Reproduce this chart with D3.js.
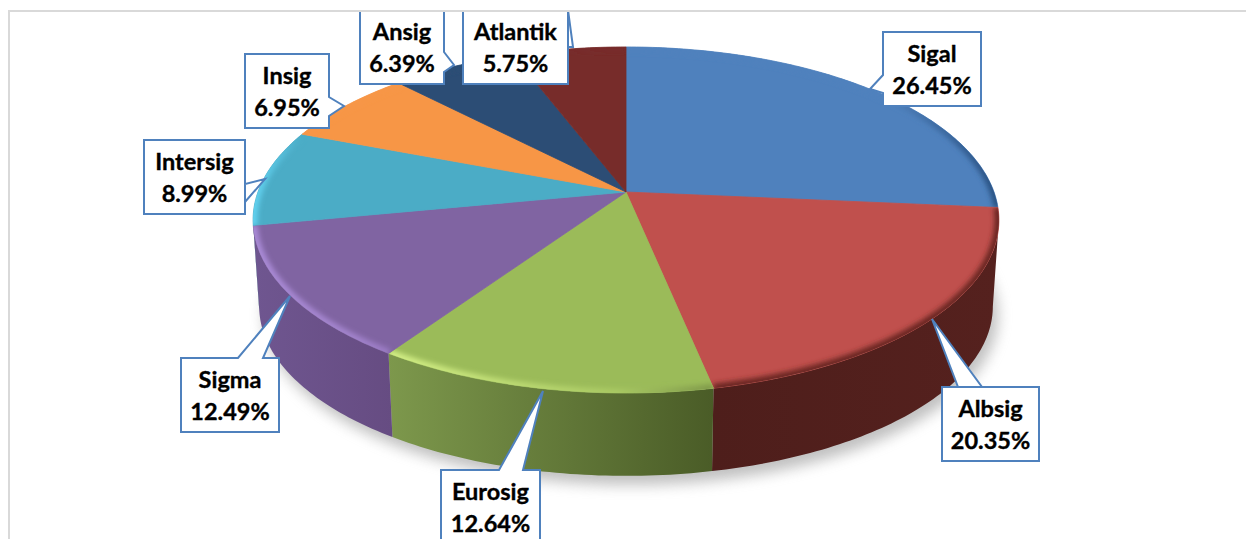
<!DOCTYPE html>
<html>
<head>
<meta charset="utf-8">
<script src="https://cdn.jsdelivr.net/npm/d3@7"></script>
<style>
html,body{margin:0;padding:0;background:#fff;overflow:hidden;}
svg{display:block;}
</style>
</head>
<body>
<svg></svg>
<script>
var width = 1246;
var height = 539;
// chart data
var categories = ["Sigal","Albsig","Eurosig","Sigma","Intersig","Insig","Ansig","Atlantik"];
var shares = [26.45,20.35,12.64,12.49,8.99,6.95,6.39,5.75];
var shareLabels = ["26.45%","20.35%","12.64%","12.49%","8.99%","6.95%","6.39%","5.75%"];
// colours of each slice
var topColors = ["#4f81bd","#c0504d","#9bbb59","#8064a2","#4bacc6","#f79646","#2c4d75","#772c2a"];
var rimColors = [["#4f81bd","#4f81bd","#2a5282"],["#6a2724","#6a2724","#6a2724"],
                 ["#d2ee85","#a9c963","#7f994a"],["#a98ad6","#a283cc","#9a7bc4"],
                 ["#62d2f0","#52b8d4","#4bacc6"],["#f79646","#f79646","#f79646"],
                 ["#2c4d75","#2c4d75","#2c4d75"],["#772c2a","#772c2a","#772c2a"]];
var wallColors = [["#2f4d72","#2f4d72"],["#4e1e1b","#55211e"],["#7d984c","#4a5c27"],["#6f5690","#664c82"],
                  ["#2e6878","#2e6878"],["#955a2a","#955a2a"],["#1b2f47","#1b2f47"],["#481b19","#481b19"]];
// callout boxes: [left, top, right, bottom], tip, the two pointer base points
var boxes = [[883,32,981,106],[942,387,1039,461],[441,470,540,544],[181,358,279,432],
             [144,140,245,214],[245,54,329,128],[360,10,444,84],[463,10,568,84]];
var tips = [[870,89],[932,319],[543,391],[290,296],[265,179],[344,106],[454,65],[573,47]];
var bases = [[[883,93],[883,75]],[[982,387],[958,387]],[[499,470],[523,470]],[[238,358],[263,358]],
             [[245,202],[245,184]],[[329,97],[329,116]],[[444,52],[444,72]],[[568,10],[568,47]]];

var svg = d3.select("svg")
    .attr("width",width)
    .attr("height",height);
var defs = svg.append("defs");

//perspective of the disc, k makes the front bigger than the back
var k = 0.1618;
var xTop = d3.scaleLinear().domain([-1,1]).range([626-368,626+368]);
var yTop = d3.scaleLinear().domain([-1,1]).range([192-168.5,192+168.5]);
var xBottom = d3.scaleLinear().domain([-1,1]).range([626-362,626+362]);
var yBottom = d3.scaleLinear().domain([-1,1]).range([279-165,279+165]);
function project(angle,xScale,yScale) {
    var u = Math.sin(angle);
    var v = -Math.cos(angle);
    var w = 1/(1-k*v);
    return [xScale(u*w),yScale(v*w)];
}
function arcPoints(a0,a1,xScale,yScale) {
    var n = Math.max(2,Math.ceil((a1-a0)*60));
    return d3.range(n+1).map(i => project(a0+(a1-a0)*i/n,xScale,yScale));
}
var line = d3.line();

var slices = d3.pie().sort(null).value(d => d)(shares);

defs.append("filter").attr("id","shadowBlur")
    .attr("x","-10%").attr("y","-10%").attr("width","120%").attr("height","130%")
    .append("feGaussianBlur").attr("stdDeviation",7);
defs.append("filter").attr("id","rimBlur")
    .attr("x","-10%").attr("y","-10%").attr("width","120%").attr("height","120%")
    .append("feGaussianBlur").attr("stdDeviation",2.5);

//soft shadow below the pie
svg.append("path")
    .attr("d",line(arcPoints(0,2*Math.PI,xBottom,yBottom))+"Z")
    .attr("transform","translate(5,9)")
    .attr("fill","#8c8c8c")
    .attr("opacity",0.55)
    .attr("filter","url(#shadowBlur)");

//side walls, only the part of the rim that faces the viewer
var wallStart = Math.acos(-k);
var wallEnd = 2*Math.PI-wallStart;
var walls = slices.filter(d => d.endAngle>wallStart && d.startAngle<wallEnd);
walls.forEach(d => {
    var a0 = Math.max(d.startAngle,wallStart);
    var a1 = Math.min(d.endAngle,wallEnd);
    var gradient = defs.append("linearGradient").attr("id","wall"+d.index);
    gradient.append("stop").attr("offset",0).attr("stop-color",wallColors[d.index][0]);
    gradient.append("stop").attr("offset",1).attr("stop-color",wallColors[d.index][1]);
    var upper = arcPoints(a0,a1,xTop,yTop);
    var lower = arcPoints(a0,a1,xBottom,yBottom).reverse();
    svg.append("path")
        .attr("d",line(upper.concat(lower))+"Z")
        .attr("fill","url(#wall"+d.index+")");
});

//top faces with a blurred bevel along the outer edge
var centre = [xTop(0),yTop(0)];
slices.forEach(d => {
    var edge = arcPoints(d.startAngle,d.endAngle,xTop,yTop);
    var shape = line([centre].concat(edge))+"Z";
    defs.append("clipPath").attr("id","slice"+d.index)
        .append("path").attr("d",shape);
    var gradient = defs.append("linearGradient").attr("id","rim"+d.index)
        .attr("gradientUnits","userSpaceOnUse")
        .attr("x1",d3.min(edge,p => p[0])).attr("x2",d3.max(edge,p => p[0]))
        .attr("y1",0).attr("y2",0);
    [0,0.7,1].forEach((o,i) => {
        gradient.append("stop").attr("offset",o).attr("stop-color",rimColors[d.index][i]);
    });
    //same colour stroke closes the seams between slices
    svg.append("path")
        .attr("d",shape)
        .attr("fill",topColors[d.index])
        .attr("stroke",topColors[d.index])
        .attr("stroke-width",0.8);
    svg.append("g")
        .attr("clip-path","url(#slice"+d.index+")")
        .append("path")
        .attr("d",line(edge))
        .attr("fill","none")
        .attr("stroke","url(#rim"+d.index+")")
        .attr("stroke-width",9)
        .attr("filter","url(#rimBlur)");
});

//callouts
var callouts = svg.append("g");
categories.forEach((name,i) => {
    var b = boxes[i];
    var tip = tips[i];
    var base = bases[i];
    var points;
    if (b[1]===base[0][1]) {
        //pointer on the top side
        points = [[b[0],b[1]],base[0],tip,base[1],[b[2],b[1]],[b[2],b[3]],[b[0],b[3]]];
    } else if (b[0]===base[0][0]) {
        //pointer on the left side
        points = [[b[0],b[1]],[b[2],b[1]],[b[2],b[3]],[b[0],b[3]],base[0],tip,base[1]];
    } else {
        //pointer on the right side
        points = [[b[0],b[1]],[b[2],b[1]],base[0],tip,base[1],[b[2],b[3]],[b[0],b[3]]];
    }
    callouts.append("path")
        .attr("d",line(points)+"Z")
        .attr("fill","#fff")
        .attr("stroke","#4f81bd")
        .attr("stroke-width",2)
        .attr("stroke-linejoin","miter");
    callouts.append("text")
        .attr("x",(b[0]+b[2])/2)
        .attr("y",b[1]+30)
        .text(name);
    callouts.append("text")
        .attr("x",(b[0]+b[2])/2)
        .attr("y",b[1]+62)
        .text(shareLabels[i]);
});
callouts.selectAll("text")
    .attr("text-anchor","middle")
    .attr("font-family","Lato, 'Open Sans', sans-serif")
    .attr("font-weight",700)
    .attr("font-size",23.5)
    .attr("fill","#000")
    .attr("stroke","#000")
    .attr("stroke-width",0.35);

//chart area border, white above it hides the top of the cut callouts
svg.append("rect")
    .attr("x",0).attr("y",0).attr("width",width).attr("height",10)
    .attr("fill","#fff");
svg.append("rect")
    .attr("x",8).attr("y",10).attr("width",width-8).attr("height",2)
    .attr("fill","#d9d9d9");
svg.append("rect")
    .attr("x",8).attr("y",10).attr("width",2).attr("height",height-10)
    .attr("fill","#d9d9d9");
</script>
</body>
</html>
